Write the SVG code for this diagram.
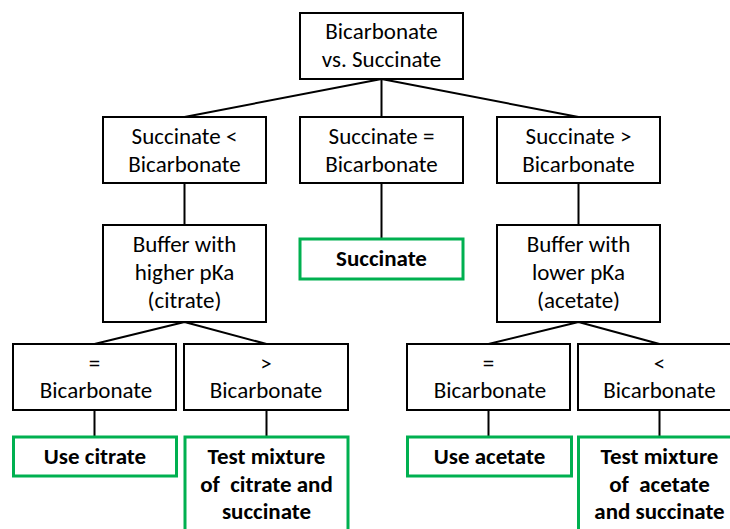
<svg xmlns="http://www.w3.org/2000/svg" width="730" height="529" viewBox="0 0 730 529">
<style>
.box{fill:#fff;stroke:#000;stroke-width:2}
.res{fill:#fff;stroke:#00B050;stroke-width:3}
.t{font-family:Carlito,Lato,"Liberation Sans",sans-serif;font-size:23px;fill:#000;text-anchor:middle}
.b{font-weight:bold}
.c{stroke:#000;stroke-width:2;fill:none}
</style>
<rect width="730" height="529" fill="#fff"/>
<g id="connectors">
<path class="c" d="M381.5,79 L184.5,117 M381.5,79 L381.5,117 M381.5,79 L578.5,117"/>
<path class="c" d="M184.5,183 L184.5,225 M381.5,183 L381.5,239 M578.5,183 L578.5,225"/>
<path class="c" d="M184.5,322 L94.5,344 M184.5,322 L266.5,344 M578.5,322 L488.5,344 M578.5,322 L659.5,344"/>
<path class="c" d="M94.5,410 L94.5,437 M266.5,410 L266.5,437 M488.5,410 L488.5,437 M659.5,410 L659.5,437"/>
</g>
<g id="root">
<rect class="box" x="300" y="13" width="163" height="66"/>
<text class="t" x="381.5" y="39">Bicarbonate</text>
<text class="t" x="381.5" y="67">vs. Succinate</text>
</g>
<g id="less">
<rect class="box" x="103" y="117" width="163" height="66"/>
<text class="t" x="184.5" y="144">Succinate &lt;</text>
<text class="t" x="184.5" y="172">Bicarbonate</text>
</g>
<g id="equal">
<rect class="box" x="300" y="117" width="163" height="66"/>
<text class="t" x="381.5" y="144">Succinate =</text>
<text class="t" x="381.5" y="172">Bicarbonate</text>
</g>
<g id="greater">
<rect class="box" x="497" y="117" width="163" height="66"/>
<text class="t" x="578.5" y="144">Succinate &gt;</text>
<text class="t" x="578.5" y="172">Bicarbonate</text>
</g>
<g id="buffer-higher">
<rect class="box" x="103" y="225" width="163" height="97"/>
<text class="t" x="184.5" y="252">Buffer with</text>
<text class="t" x="184.5" y="280">higher pKa</text>
<text class="t" x="184.5" y="308">(citrate)</text>
</g>
<g id="succinate-result">
<rect class="res" x="300" y="239" width="163" height="40"/>
<text class="t b" x="381.5" y="266">Succinate</text>
</g>
<g id="buffer-lower">
<rect class="box" x="497" y="225" width="163" height="97"/>
<text class="t" x="578.5" y="252">Buffer with</text>
<text class="t" x="578.5" y="280">lower pKa</text>
<text class="t" x="578.5" y="308">(acetate)</text>
</g>
<g id="citrate-eq">
<rect class="box" x="13" y="344" width="163" height="66"/>
<text class="t" x="94.5" y="371">=</text>
<text class="t" x="96" y="398">Bicarbonate</text>
</g>
<g id="citrate-gt">
<rect class="box" x="184" y="344" width="164" height="66"/>
<text class="t" x="266" y="371">&gt;</text>
<text class="t" x="266" y="398">Bicarbonate</text>
</g>
<g id="acetate-eq">
<rect class="box" x="407" y="344" width="163" height="66"/>
<text class="t" x="488.5" y="371">=</text>
<text class="t" x="490" y="398">Bicarbonate</text>
</g>
<g id="acetate-lt">
<rect class="box" x="578" y="344" width="163" height="66"/>
<text class="t" x="659.5" y="371">&lt;</text>
<text class="t" x="659.5" y="398">Bicarbonate</text>
</g>
<g id="use-citrate">
<rect class="res" x="13.5" y="437" width="163" height="39"/>
<text class="t b" x="95" y="464">Use citrate</text>
</g>
<g id="mix-citrate">
<rect class="res" x="185" y="437" width="163" height="110"/>
<text class="t b" x="266.5" y="464">Test mixture</text>
<text class="t b" x="266.5" y="492" xml:space="preserve">of  citrate and</text>
<text class="t b" x="266.5" y="519">succinate</text>
</g>
<g id="use-acetate">
<rect class="res" x="407.5" y="437" width="164" height="39"/>
<text class="t b" x="489.5" y="464">Use acetate</text>
</g>
<g id="mix-acetate">
<rect class="res" x="578.5" y="437" width="163" height="110"/>
<text class="t b" x="659.5" y="464">Test mixture</text>
<text class="t b" x="659.5" y="492" xml:space="preserve">of  acetate</text>
<text class="t b" x="659.5" y="519">and succinate</text>
</g>
</svg>
